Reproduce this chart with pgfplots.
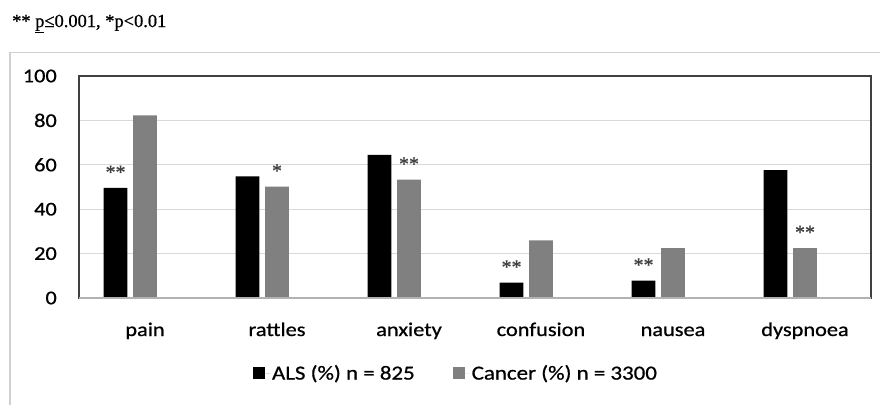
\documentclass[border=0pt]{standalone}
\usepackage{pgfplots}
\pgfplotsset{compat=1.18}
\usepackage{fontspec}
\setmainfont{Carlito}[FakeStretch=1.15, FakeBold=0.8]
\newfontfamily\serif{Liberation Serif}[FakeBold=0.8]
\definecolor{gridgray}{HTML}{D9D9D9}
\definecolor{boxgray}{HTML}{404040}
\definecolor{bargray}{HTML}{808080}
\definecolor{framegray}{HTML}{D0D0D0}
\begin{document}
\begin{tikzpicture}
\useasboundingbox (0bp,0bp) rectangle (880bp,-405bp);
\begin{scope}
\clip (0bp,0bp) rectangle (880bp,-405bp);
\draw[framegray, line width=1.5bp] (10bp,-52.5bp) rectangle (920bp,-440bp);
\end{scope}
\node[anchor=base west, inner sep=0pt, font=\serif\fontsize{18.5}{20}\selectfont] at (12bp,-27bp) {** \underline{p}≤0.001, *p<0.01};
\begin{axis}[
  at={(79bp,-298bp)}, anchor=south west,
  scale only axis, width=792bp, height=222bp,
  xmin=-0.5, xmax=5.5, ymin=0, ymax=100,
  enlargelimits=false,
  ybar, bar width=0.18,
  xtick={0,...,5},
  xticklabels={pain,rattles,anxiety,confusion,nausea,dyspnoea},
  ytick={0,20,...,100},
  major tick length=0pt,
  ymajorgrids, grid style={color=gridgray, line width=1.2bp},
  axis line style={color=boxgray, line width=1.3bp},
  /pgf/number format/assume math mode=true,
  tick label style={font=\fontsize{19.5}{21}\selectfont, text=black},
  yticklabel style={anchor=east, inner sep=0pt, xshift=-22bp},
  xticklabel style={anchor=base, inner sep=0pt, yshift=-38bp},
  point meta=explicit symbolic,
  nodes near coords={\pgfplotspointmeta},
  every node near coord/.append style={font=\serif\fontsize{20}{20}\selectfont, text=boxgray, anchor=south, inner sep=0pt, yshift=9bp},
  every axis plot post/.append style={legend image code/.code={\fill[##1] (0bp,-6bp) rectangle (12bp,6bp); \path (12bp,0bp) -- (17bp,0bp);}},
  legend style={at={(0.476,-0.338)}, anchor=center, draw=none, fill=none,
    legend columns=2, font=\fontsize{20}{21}\selectfont,
    /tikz/every even column/.append style={column sep=36bp}},
  legend cell align=left,
]
\addplot[fill=black, draw=none, bar shift=-0.223] coordinates {
  (0,49.6) [**] (1,54.8) [{}] (2,64.5) [{}] (3,6.9) [**] (4,7.8) [**] (5,57.6) [{}]};
\addlegendentry{ALS (\%) n = 825}
\addplot[fill=bargray, draw=none, bar shift=0] coordinates {
  (0,82.3) [{}] (1,50.2) [*] (2,53.3) [**] (3,26.0) [{}] (4,22.5) [{}] (5,22.5) [**]};
\addlegendentry{Cancer (\%) n = 3300}
\draw[color=gray!60, line width=1.3bp] (rel axis cs:0,0) -- (rel axis cs:1,0);
\end{axis}
\end{tikzpicture}
\end{document}
